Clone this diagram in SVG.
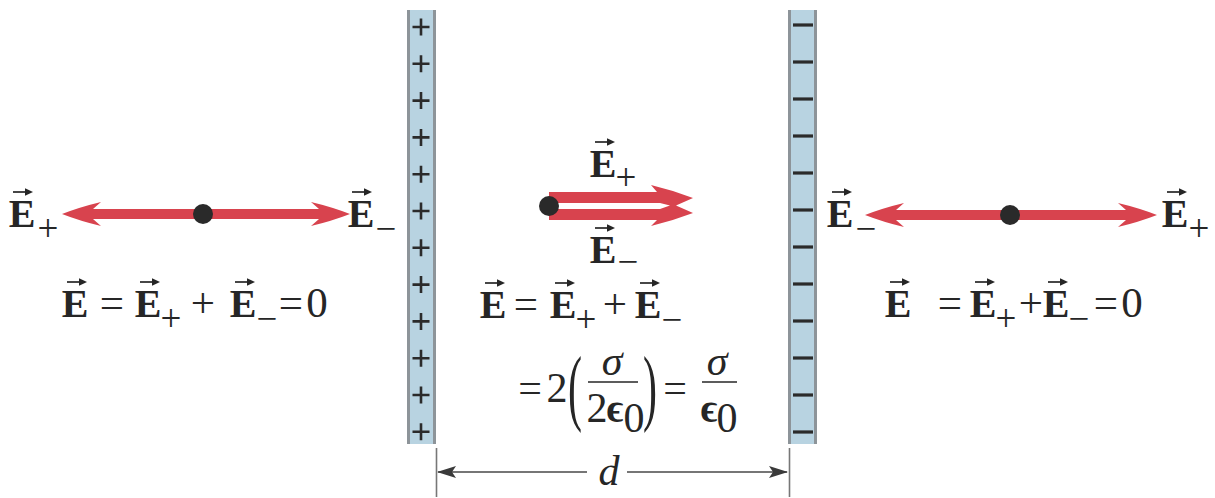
<svg xmlns="http://www.w3.org/2000/svg" xmlns:xlink="http://www.w3.org/1999/xlink" width="1215" height="498" viewBox="0 0 1215 498">
<style>
.E{font-family:"Liberation Serif","DejaVu Serif",serif;font-weight:bold;font-size:40px;fill:#262626;text-anchor:middle}
.s{font-family:"Liberation Serif","DejaVu Serif",serif;font-size:37px;fill:#262626;text-anchor:middle}
.op{font-family:"Liberation Serif","DejaVu Serif",serif;font-size:43px;fill:#262626;text-anchor:middle}
.m{font-family:"Liberation Serif","DejaVu Serif",serif;font-size:42px;fill:#262626;text-anchor:middle}
.mi{font-family:"Liberation Serif","DejaVu Serif",serif;font-style:italic;font-size:42px;fill:#262626;text-anchor:middle}
.eps{font-family:"Liberation Serif","DejaVu Serif",serif;font-weight:bold;font-size:40px;fill:#262626;text-anchor:middle}
.red{fill:#d8434e}
.dot{fill:#2a2a2a}
.plate{fill:#b8d3e1}
.edge{fill:#8d9499}
.pm{stroke:#2b2b2b;stroke-width:2.6;fill:none}
.dim{stroke:#4a4a4a;stroke-width:1.5;fill:none}
.tick{stroke:#777;stroke-width:1.6;fill:none}
.bar{stroke:#262626;stroke-width:1.7}
</style>
<defs>
<g id="vec"><path d="M-9,0 H6" stroke="#262626" stroke-width="1.7"/><path d="M3,-3.8 L11,0 L3,3.8 Z" fill="#262626"/></g>
<path id="plus" d="M-8.5,0 H8.5 M0,-8.5 V8.5" class="pm"/>
<path id="minus" d="M-10,0 H10" stroke="#2b2b2b" stroke-width="3.2"/>
</defs>

<g id="plate-positive">
<rect x="407" y="10" width="29" height="434" class="plate"/>
<rect x="407" y="10" width="3" height="434" class="edge"/>
<rect x="433" y="10" width="3" height="434" class="edge"/>
<use xlink:href="#plus" x="421" y="27"/>
<use xlink:href="#plus" x="421" y="63.8"/>
<use xlink:href="#plus" x="421" y="100.6"/>
<use xlink:href="#plus" x="421" y="137.4"/>
<use xlink:href="#plus" x="421" y="174.2"/>
<use xlink:href="#plus" x="421" y="211"/>
<use xlink:href="#plus" x="421" y="247.8"/>
<use xlink:href="#plus" x="421" y="284.6"/>
<use xlink:href="#plus" x="421" y="321.4"/>
<use xlink:href="#plus" x="421" y="358.2"/>
<use xlink:href="#plus" x="421" y="395"/>
<use xlink:href="#plus" x="421" y="431.8"/>
</g>

<g id="plate-negative">
<rect x="788" y="10" width="29" height="434" class="plate"/>
<rect x="788" y="10" width="3" height="434" class="edge"/>
<rect x="814" y="10" width="3" height="434" class="edge"/>
<use xlink:href="#minus" x="803" y="25"/>
<use xlink:href="#minus" x="803" y="62"/>
<use xlink:href="#minus" x="803" y="99"/>
<use xlink:href="#minus" x="803" y="136"/>
<use xlink:href="#minus" x="803" y="173"/>
<use xlink:href="#minus" x="803" y="210"/>
<use xlink:href="#minus" x="803" y="247"/>
<use xlink:href="#minus" x="803" y="284"/>
<use xlink:href="#minus" x="803" y="321"/>
<use xlink:href="#minus" x="803" y="358"/>
<use xlink:href="#minus" x="803" y="395"/>
<use xlink:href="#minus" x="803" y="432"/>
</g>

<g id="connectors">
<path class="red" d="M62,214 Q80,207 101,202 L93,209 H319 L311,202 Q332,207 350,214 Q332,221 311,226 L319,219 H93 L101,226 Q80,221 62,214 Z"/>
<path class="red" d="M549,192 H657 L651,185 Q672,190 693,198 L676,205.5 L693,213 Q672,221 651,226 L657,220 H549 V209 H660 L670,205.5 L660,203 H549 Z"/>
<path class="red" d="M865,215 Q883,208 904,203 L896,210 H1126 L1118,203 Q1139,208 1157,215 Q1139,222 1118,227 L1126,220 H896 L904,227 Q883,222 865,215 Z"/>
<path class="dim" d="M438,472 H587 M627,472 H787"/>
<path d="M437,472 L456,466 L452,472 L456,478 Z" fill="#3a3a3a"/>
<path d="M788,472 L769,466 L773,472 L769,478 Z" fill="#3a3a3a"/>
<path class="tick" d="M436.5,448 V497 M789.5,448 V497"/>
</g>

<g id="point-left"><circle cx="203" cy="214" r="10" class="dot"/></g>
<g id="point-center"><circle cx="549" cy="206" r="10" class="dot"/></g>
<g id="point-right"><circle cx="1010" cy="215" r="10" class="dot"/></g>

<g id="label-left">
<text class="E" x="22" y="227">E</text><use xlink:href="#vec" x="22" y="192"/>
<text class="s" x="48" y="241">+</text>
<text class="E" x="361" y="227">E</text><use xlink:href="#vec" x="361" y="192"/>
<text class="s" x="386" y="241">−</text>
</g>

<g id="eq-left">
<text class="E" x="75" y="317">E</text><use xlink:href="#vec" x="76" y="282"/>
<text class="op" x="112" y="317">=</text>
<text class="E" x="148" y="317">E</text><use xlink:href="#vec" x="149" y="282"/>
<text class="s" x="171" y="331">+</text>
<text class="op" x="203" y="317">+</text>
<text class="E" x="243" y="317">E</text><use xlink:href="#vec" x="244" y="282"/>
<text class="s" x="267" y="331">−</text>
<text class="op" x="291" y="317">=</text>
<text class="op" x="317" y="317">0</text>
</g>

<g id="label-center">
<text class="E" x="603" y="177">E</text><use xlink:href="#vec" x="604" y="142"/>
<text class="s" x="626" y="190">+</text>
<text class="E" x="603" y="263">E</text><use xlink:href="#vec" x="604" y="228"/>
<text class="s" x="628" y="274">−</text>
</g>

<g id="eq-center">
<text class="E" x="493" y="318">E</text><use xlink:href="#vec" x="494" y="283"/>
<text class="op" x="526" y="318">=</text>
<text class="E" x="563" y="318">E</text><use xlink:href="#vec" x="564" y="283"/>
<text class="s" x="586" y="332">+</text>
<text class="op" x="615" y="318">+</text>
<text class="E" x="648" y="318">E</text><use xlink:href="#vec" x="649" y="283"/>
<text class="s" x="672" y="332">−</text>
<text class="m" x="530" y="402">=</text>
<text class="m" x="557" y="402">2</text>
<text class="m" transform="translate(575,392) scale(1,2)" x="0" y="11.5" font-size="46">(</text>
<text class="mi" x="612" y="375">σ</text>
<line class="bar" x1="588" y1="382" x2="638" y2="382"/>
<text class="m" x="597" y="422" font-size="38">2</text>
<text class="eps" x="615" y="422">ϵ</text>
<text class="m" x="634" y="432" font-size="34">0</text>
<text class="m" transform="translate(650,392) scale(1,2)" x="0" y="11.5" font-size="46">)</text>
<text class="m" x="675" y="402">=</text>
<text class="mi" x="717" y="375">σ</text>
<line class="bar" x1="702" y1="382" x2="737" y2="382"/>
<text class="eps" x="709" y="422">ϵ</text>
<text class="m" x="727" y="432" font-size="34">0</text>
</g>

<g id="label-right">
<text class="E" x="840" y="227">E</text><use xlink:href="#vec" x="841" y="192"/>
<text class="s" x="866" y="241">−</text>
<text class="E" x="1175" y="227">E</text><use xlink:href="#vec" x="1176" y="192"/>
<text class="s" x="1199" y="241">+</text>
</g>

<g id="eq-right">
<text class="E" x="898" y="317">E</text><use xlink:href="#vec" x="899" y="282"/>
<text class="op" x="950" y="317">=</text>
<text class="E" x="983" y="317">E</text><use xlink:href="#vec" x="984" y="282"/>
<text class="s" x="1006" y="331">+</text>
<text class="op" x="1031" y="317">+</text>
<text class="E" x="1056" y="317">E</text><use xlink:href="#vec" x="1057" y="282"/>
<text class="s" x="1079" y="331">−</text>
<text class="op" x="1106" y="317">=</text>
<text class="op" x="1132" y="317">0</text>
</g>

<g id="dimension-label">
<text class="mi" x="609" y="485" font-size="46">d</text>
</g>
</svg>
